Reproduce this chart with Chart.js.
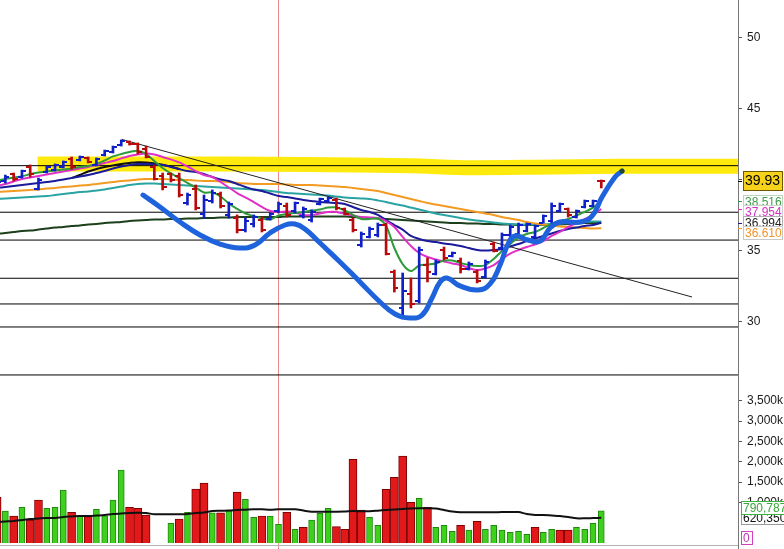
<!DOCTYPE html>
<html>
<head>
<meta charset="utf-8">
<script src="https://cdn.jsdelivr.net/npm/chart.js@4.4.1/dist/chart.umd.min.js"></script>
<style>
  html, body { margin: 0; padding: 0; background: #fff; }
  #wrap { position: relative; width: 784px; height: 549px; overflow: hidden; background: #fff; }
  canvas { position: absolute; left: 0; }
  #price { top: 0; }
  #vol { top: 381px; }
</style>
</head>
<body>
<div id="wrap">
  <canvas id="price" width="784" height="381" style="width:784px;height:381px"></canvas>
  <canvas id="vol" width="784" height="168" style="width:784px;height:168px"></canvas>
</div>
<script>
// ---- daily OHLC (bar index 0..73) ----
const openP = [39.50,39.90,40.40,40.20,40.90,39.40,40.55,40.70,40.90,41.50,
  41.40,41.55,41.05,41.75,41.95,42.45,42.70,42.50,42.20,40.90,
  40.30,40.40,40.30,38.40,39.40,37.60,38.50,39.00,37.50,37.30,
  36.45,36.90,37.20,37.25,37.80,38.20,37.80,37.45,37.15,38.30,
  38.50,38.60,37.95,37.20,35.40,36.00,36.10,36.85,33.50,31.00,
  32.00,31.50,34.00,33.40,35.10,34.65,34.30,33.75,33.50,33.20,
  35.50,35.20,36.10,36.20,36.40,36.00,37.00,37.10,37.80,37.95,
  37.40,38.10,38.15,39.95];
const highP = [39.93,40.35,40.49,40.70,41.06,40.14,40.99,41.13,41.34,41.62,
  41.69,41.62,41.55,42.11,42.39,42.82,42.75,42.61,42.39,41.06,
  40.49,40.49,40.49,39.08,39.65,38.94,39.30,39.15,38.45,37.54,
  37.32,37.54,37.39,37.68,38.45,38.38,38.45,38.10,37.89,38.73,
  38.80,38.73,38.03,37.32,36.34,36.69,36.97,36.97,33.66,33.45,
  33.10,35.28,34.51,34.37,35.28,34.93,34.51,34.23,33.66,34.37,
  35.63,36.27,36.83,36.97,36.97,36.83,37.54,38.38,38.38,38.03,
  37.89,38.59,38.59,40.00];
const lowP = [39.44,39.79,39.93,40.14,40.21,39.30,40.49,40.63,40.85,40.77,
  41.34,41.20,40.99,41.69,41.90,42.39,42.46,41.83,41.55,40.00,
  39.30,39.86,38.80,38.24,37.89,37.32,38.38,38.03,37.32,36.27,
  36.34,36.69,36.34,37.18,37.68,37.39,37.68,37.32,37.04,38.24,
  38.45,37.89,37.54,36.34,35.28,35.92,35.99,34.72,32.11,30.49,
  30.99,31.34,32.82,33.31,34.37,34.58,33.45,33.66,32.75,33.10,
  34.93,35.07,35.99,36.13,36.34,35.92,36.97,36.97,37.75,37.39,
  37.32,38.03,38.10,39.44];
const closeP = [39.85,40.20,40.10,40.60,40.40,40.00,40.90,41.05,41.25,40.90,
  41.65,41.30,41.45,42.05,42.30,42.75,42.50,41.95,41.65,40.10,
  39.50,40.00,38.95,38.95,38.00,38.60,39.10,38.15,38.30,36.45,
  37.10,37.40,36.50,37.60,38.30,37.55,38.35,37.95,37.75,38.65,
  38.75,38.00,37.60,36.45,36.20,36.55,36.85,34.80,32.40,32.20,
  31.30,35.10,33.50,34.20,34.50,34.85,33.70,34.10,32.90,34.20,
  35.00,36.10,36.70,36.85,36.90,36.75,37.45,38.20,38.30,37.50,
  37.80,38.50,38.50,39.93];

// ---- moving averages ----
const maGreen = [39.96,40.07,40.18,40.25,40.42,40.53,40.60,40.67,40.74,40.81,
  40.92,40.99,41.13,41.38,41.66,41.83,41.97,42.06,41.83,41.34,
  40.85,40.46,40.14,39.79,39.47,39.12,39.12,38.84,38.35,37.96,
  37.64,37.46,37.29,37.22,37.50,37.61,37.68,37.75,37.85,37.92,
  38.06,38.06,37.85,37.54,37.25,37.25,37.29,36.76,35.21,34.08,
  33.59,33.98,34.05,34.12,34.33,34.33,34.16,34.01,33.94,34.01,
  34.44,35.00,35.49,35.96,36.20,36.34,36.62,36.90,37.11,37.25,
  37.50,37.75,38.06,38.516];
const maMagenta = [39.58,39.72,39.90,40.07,40.18,40.28,40.39,40.49,40.60,40.70,
  40.81,40.92,41.06,41.20,41.34,41.52,41.69,41.80,41.87,41.80,
  41.62,41.45,41.24,40.95,40.63,40.35,40.21,39.86,39.47,39.08,
  38.77,38.45,38.10,37.82,37.75,37.78,37.71,37.54,37.54,37.64,
  37.75,37.75,37.61,37.50,37.39,37.36,37.32,37.11,36.69,35.99,
  35.35,34.86,34.58,34.40,34.26,34.12,34.01,33.80,33.66,33.77,
  34.01,34.44,34.82,35.07,35.28,35.46,35.70,36.06,36.34,36.69,
  36.97,37.25,37.54,37.954];
const maNavy = [39.44,39.51,39.58,39.65,39.72,39.79,39.86,39.93,40.04,40.14,
  40.25,40.35,40.49,40.63,40.81,40.95,41.06,41.13,41.13,41.10,
  41.06,40.92,40.77,40.63,40.56,40.42,40.21,40.04,39.93,39.72,
  39.51,39.33,39.23,39.05,38.87,38.80,38.70,38.59,38.52,38.45,
  38.41,38.38,38.31,38.10,37.89,37.75,37.54,37.18,36.83,36.51,
  36.06,35.85,35.70,35.63,35.53,35.46,35.35,35.21,35.07,35.03,
  35.07,35.14,35.32,35.49,35.70,35.88,36.06,36.23,36.41,36.55,
  36.65,36.76,36.83,36.994];
// short black average, shown from bar 9 to bar 22
const maBlackFrom = 9;
const maBlack = [40.14,40.35,40.60,40.77,40.92,41.03,41.13,41.20,41.25,41.24,41.17,41.08,40.95,40.77];
const maOrange = [39.15,39.19,39.23,39.26,39.30,39.33,39.40,39.44,39.51,39.54,
  39.61,39.65,39.72,39.79,39.86,39.93,39.96,40.04,40.07,40.07,
  40.07,40.04,40.00,40.00,39.96,39.93,39.93,39.90,39.86,39.79,
  39.75,39.72,39.72,39.72,39.72,39.68,39.65,39.65,39.65,39.61,
  39.58,39.54,39.51,39.44,39.37,39.30,39.23,39.08,38.94,38.80,
  38.66,38.52,38.38,38.27,38.17,38.06,37.96,37.85,37.75,37.64,
  37.54,37.39,37.29,37.18,37.04,36.94,36.87,36.80,36.73,36.69,
  36.65,36.62,36.59,36.610];
const maTeal = [38.66,38.70,38.73,38.77,38.80,38.84,38.87,38.94,39.01,39.08,
  39.15,39.19,39.26,39.33,39.44,39.54,39.65,39.72,39.75,39.75,
  39.72,39.68,39.65,39.61,39.58,39.54,39.51,39.47,39.44,39.40,
  39.37,39.33,39.30,39.23,39.15,39.08,39.05,39.01,38.98,38.94,
  38.91,38.84,38.77,38.73,38.70,38.66,38.56,38.45,38.31,38.20,
  38.06,37.92,37.78,37.64,37.54,37.43,37.32,37.22,37.15,37.08,
  37.01,36.94,36.90,36.87,36.87,36.87,36.87,36.90,36.94,36.97,
  37.01,37.04,37.08,37.08];
const maDarkGreen = [36.20,36.27,36.34,36.41,36.44,36.51,36.58,36.65,36.69,36.76,
  36.80,36.87,36.90,36.97,37.01,37.04,37.11,37.15,37.18,37.22,
  37.22,37.25,37.25,37.29,37.29,37.32,37.32,37.36,37.36,37.39,
  37.39,37.39,37.39,37.39,37.39,37.43,37.43,37.43,37.43,37.43,
  37.43,37.43,37.43,37.39,37.36,37.32,37.29,37.25,37.22,37.18,
  37.15,37.11,37.08,37.04,37.01,36.97,36.97,36.94,36.94,36.90,
  36.90,36.87,36.87,36.83,36.83,36.83,36.83,36.83,36.87,36.90,
  36.94,36.97,36.97,37.01];

// ---- volume ----
const volume = [1124000,787000,664000,878000,566000,1057000,853000,878000,1303000,755000,
  671000,647000,829000,671000,1057000,1795000,878000,853000,689000,null,
  null,484000,590000,755000,1328000,1475000,745000,745000,794000,1254000,
  1075000,632000,664000,664000,460000,755000,337000,386000,566000,730000,
  853000,401000,337000,2058000,811000,632000,435000,1320000,1616000,2139000,
  1001000,1099000,878000,386000,435000,288000,435000,320000,534000,337000,
  435000,320000,263000,288000,214000,386000,263000,337000,320000,320000,
  386000,337000,484000,790787];
// U = up day (green), D = down day (red)
const volumeDir = 'DUDUDDUUUD' + 'UDUUUUDDD-' + '-UDUDDUDUD' + 'UUDUUDUDUU' + 'UDDDDUUDDD' +
                  'DUDUUUDUDU' + 'UUUUUDUUDD' + 'UUUU';
const volumeAvg = [516000,529000,541000,566000,590000,602000,615000,615000,639000,652000,
  664000,664000,676000,689000,713000,725000,738000,745000,738000,706000,
  706000,706000,706000,713000,738000,750000,787000,794000,799000,811000,
  819000,829000,829000,816000,829000,829000,829000,799000,770000,770000,
  770000,770000,775000,787000,780000,780000,794000,811000,824000,836000,
  848000,853000,853000,848000,811000,775000,755000,755000,755000,755000,
  755000,762000,762000,762000,713000,689000,689000,676000,664000,639000,
  607000,607000,614000,620350];
const volumeStudy = 0;

// ---- drawn studies (bar index, price) ----
const levels = [41.01, 37.73, 35.77, 33.08, 31.27, 29.65, 26.27];
const trendLine = [[15.05, 42.86], [83.97, 31.76]];
const resistanceZone = [[4.9,41.12],[18,41.13],[37,41.10],[50,41.00],[57,40.87],[65,40.90],[75,40.96],[89.6,40.96]];
const sketchPath = [[17.63,38.94],[19.68,38.10],[22.10,37.04],[24.52,36.13],[26.93,35.49],[29.35,35.21],
  [31.16,35.42],[32.97,36.27],[34.79,36.83],[35.99,36.90],[37.20,36.55],[39.02,35.56],[41.43,34.23],
  [43.85,32.82],[46.27,31.41],[48.08,30.56],[49.89,30.28],[51.34,30.49],[52.55,31.69],[53.52,32.82],
  [54.36,33.10],[55.93,32.54],[58.11,32.25],[59.56,32.68],[60.77,34.01],[61.73,35.49],[62.58,36.06],
  [64.15,35.77],[65.60,35.70],[66.81,36.62],[68.02,37.04],[70.43,37.04],[71.88,37.46],[73.09,38.80],
  [74.66,40.21],[75.51,40.63]];
const cursorBar = 34;

// ---- axis ticks ----
const priceTicks = [30, 35, 40, 45, 50];
const volumeTicks = [1000000, 1500000, 2000000, 2500000, 3000000, 3500000];

// ---- layout ----
const AXIS_W = 46;
const X_MIN = 0.35, X_MAX = 89.52;
const PRICE_MAX = 52.676, PRICE_MIN = 52.676 - 381 / 14.2;
const VOL_MAX = 162 / 20.33 * 500000, VOL_MIN = -6 / 20.33 * 500000;
const FONT = 'Liberation Sans, Arial, sans-serif';

const pts = arr => arr.map((v, i) => ({ x: i, y: v }));
const pairs = arr => arr.map(p => ({ x: p[0], y: p[1] }));
const last = arr => arr[arr.length - 1];

const UP_BAR = '#1020c8', DOWN_BAR = '#b80a0a';

const upStems = [], downStems = [];
openP.forEach((o, i) => {
  const rec = { x: i, y: [lowP[i], highP[i]], o: o, c: closeP[i] };
  (closeP[i] >= o ? upStems : downStems).push(rec);
});

function lineDs(data, color, width, order, extra) {
  return Object.assign({
    type: 'line', data: data, borderColor: color, borderWidth: width,
    pointRadius: 0, tension: 0.3, fill: false, order: order, spanGaps: false
  }, extra || {});
}

// open / close ticks of the OHLC bars
const ohlcTicks = {
  id: 'ohlcTicks',
  afterDatasetDraw(chart, args) {
    const ds = chart.data.datasets[args.index];
    if (!ds.ohlc) return;
    const xs = chart.scales.x, ys = chart.scales.y, ctx = chart.ctx, a = chart.chartArea;
    ctx.save();
    ctx.beginPath(); ctx.rect(a.left, a.top, a.right - a.left, a.bottom - a.top); ctx.clip();
    ctx.strokeStyle = ds.backgroundColor; ctx.lineWidth = 2;
    ds.data.forEach(d => {
      const px = Math.round(xs.getPixelForValue(d.x));
      const po = Math.round(ys.getPixelForValue(d.o)), pc = Math.round(ys.getPixelForValue(d.c));
      ctx.beginPath();
      ctx.moveTo(px - 4, po); ctx.lineTo(px, po);
      ctx.moveTo(px, pc); ctx.lineTo(px + 4, pc);
      ctx.stroke();
    });
    ctx.restore();
  }
};

// cursor line across both panes
const cursorLine = {
  id: 'cursorLine',
  beforeDatasetsDraw(chart) {
    const x = Math.round(chart.scales.x.getPixelForValue(cursorBar)) + 0.5;
    const ctx = chart.ctx;
    ctx.save(); ctx.strokeStyle = 'rgba(232,120,120,0.85)'; ctx.lineWidth = 1;
    ctx.beginPath(); ctx.moveTo(x, 0); ctx.lineTo(x, chart.height); ctx.stroke();
    ctx.restore();
  }
};

function drawTag(ctx, x, yc, h, w, text, o) {
  const top = Math.round(yc - h / 2) + 0.5;
  ctx.fillStyle = o.fill; ctx.fillRect(x, top, w, h);
  ctx.strokeStyle = o.edge; ctx.lineWidth = 1; ctx.strokeRect(x + 0.5, top, w - 1, h);
  ctx.fillStyle = o.text; ctx.textBaseline = 'middle'; ctx.textAlign = 'left';
  ctx.font = o.size + 'px ' + FONT;
  ctx.fillText(text, x + 2, top + h / 2 + 0.5);
}

// last-value tags on the price axis
const priceTags = {
  id: 'priceTags',
  afterDraw(chart) {
    const ys = chart.scales.y, ctx = chart.ctx, x0 = chart.chartArea.right;
    const tags = [
      { v: last(closeP), txt: last(closeP).toFixed(2), fill: '#f7d21a', edge: '#6b5a00', text: '#000', size: 14, h: 19, w: 40, tick: '#000' },
      { v: last(maGreen), txt: last(maGreen).toFixed(3), fill: '#fff', edge: '#bcd6bc', text: '#3d9c4a', size: 12, h: 13, w: 40, tick: '#2f9a3a' },
      { v: last(maMagenta), txt: last(maMagenta).toFixed(3), fill: '#fff', edge: '#cfcfcf', text: '#d532c3', size: 12, h: 13, w: 40, tick: '#de2fc8' },
      { v: last(maNavy), txt: last(maNavy).toFixed(3), fill: '#fff', edge: '#b0b0b0', text: '#222', size: 12, h: 13, w: 40, tick: '#1a1a9a' },
      { v: last(maOrange), txt: last(maOrange).toFixed(3), fill: '#fff', edge: '#c8c8c8', text: '#f0952a', size: 12, h: 13, w: 40, tick: '#f39a22' }
    ];
    ctx.save();
    let prev = -1e9;
    tags.forEach((t, k) => {
      const yv = ys.getPixelForValue(t.v);
      ctx.strokeStyle = t.tick; ctx.lineWidth = 1;
      ctx.beginPath(); ctx.moveTo(x0, Math.round(yv) + 0.5); ctx.lineTo(x0 + 4, Math.round(yv) + 0.5); ctx.stroke();
      let yc = yv;
      if (k > 0) yc = Math.max(yv, prev + 10);
      if (k === 1) yc = Math.max(yc, prev + 16);
      prev = yc;
      drawTag(ctx, x0 + 5, yc, t.h, t.w, t.txt, t);
    });
    ctx.restore();
  }
};

// last-value tags on the volume axis
const volumeTags = {
  id: 'volumeTags',
  afterDraw(chart) {
    const ys = chart.scales.y, ctx = chart.ctx, x0 = chart.chartArea.right;
    const fmt = v => Math.round(v).toLocaleString('en-US');
    const tags = [
      { v: volumeStudy, txt: fmt(volumeStudy), fill: '#fff', edge: '#d040c0', text: '#c030b0', w: 12 },
      { v: last(volumeAvg), txt: fmt(last(volumeAvg)), fill: '#fff', edge: '#999', text: '#111', w: 44 },
      { v: last(volume), txt: fmt(last(volume)), fill: '#fff', edge: '#3cb33c', text: '#3aa83a', w: 46 }
    ];
    ctx.save();
    let prev = 1e9;
    tags.forEach((t, k) => {
      let yc = ys.getPixelForValue(t.v);
      yc = Math.min(yc, chart.chartArea.bottom - 12);
      if (k > 0) yc = Math.min(yc, prev - 10);
      prev = yc;
      drawTag(ctx, x0 + 3, yc, 13, t.w, t.txt, Object.assign({ size: 12 }, t));
    });
    // pane frame
    ctx.strokeStyle = '#b5b5b5'; ctx.lineWidth = 1;
    const yb = Math.round(ys.getPixelForValue(VOL_MIN * 0.33)) + 0.5;
    ctx.beginPath(); ctx.moveTo(0, yb); ctx.lineTo(chart.chartArea.right, yb); ctx.stroke();
    ctx.restore();
  }
};

function rightAxis(min, max, ticks, fmt) {
  return {
    type: 'linear', position: 'right', min: min, max: max,
    afterBuildTicks: s => { s.ticks = ticks.map(v => ({ value: v })); },
    afterFit: s => { s.width = AXIS_W; s.paddingTop = 0; s.paddingBottom = 0; },
    grid: { drawOnChartArea: false, tickLength: 4, color: '#555', lineWidth: 1 },
    border: { display: true, color: '#777', width: 1 },
    ticks: { padding: 5, color: '#1a1a1a', font: { family: FONT, size: 12 }, callback: fmt }
  };
}
const xAxis = { type: 'linear', min: X_MIN, max: X_MAX, offset: false, display: false };
const common = {
  responsive: false, animation: false, devicePixelRatio: 1, events: [],
  layout: { padding: 0, autoPadding: false },
  plugins: { legend: { display: false }, tooltip: { enabled: false } }
};

const priceSets = [
  lineDs(pairs(resistanceZone), 'rgba(255,233,0,0.95)', 15, 100, { tension: 0.2, borderCapStyle: 'butt' })
];
levels.forEach(v => priceSets.push(lineDs([{ x: -1, y: v }, { x: 95, y: v }], '#000', 1, 90, { tension: 0 })));
priceSets.push(
  lineDs(pts(maDarkGreen), '#1c3f1c', 2, 60),
  lineDs(pts(maTeal), '#2aa3a3', 2, 59),
  lineDs(pts(maOrange), '#f39a22', 2, 58),
  lineDs(maBlack.map((v, i) => ({ x: i + maBlackFrom, y: v })), '#101010', 2, 57),
  lineDs(pts(maNavy), '#1a1a9a', 2, 56),
  lineDs(pts(maMagenta), '#e030c8', 2, 55),
  lineDs(pts(maGreen), '#2f9a3a', 2, 54),
  lineDs(pairs(trendLine), '#222', 1, 50, { tension: 0 }),
  { type: 'bar', data: upStems, backgroundColor: UP_BAR, barThickness: 2, grouped: false, order: 40, ohlc: true },
  { type: 'bar', data: downStems, backgroundColor: DOWN_BAR, barThickness: 2, grouped: false, order: 39, ohlc: true },
  lineDs(pairs(sketchPath), '#1e63dc', 5, 10, {
    tension: 0.45, borderCapStyle: 'round', borderJoinStyle: 'round',
    pointRadius: c => c.dataIndex === sketchPath.length - 1 ? 2.5 : 0,
    pointBackgroundColor: '#1f4a2a', pointBorderWidth: 0
  })
);

new Chart(document.getElementById('price'), {
  type: 'bar',
  data: { datasets: priceSets },
  options: Object.assign({}, common, {
    scales: { x: xAxis, y: rightAxis(PRICE_MIN, PRICE_MAX, priceTicks, v => String(v)) }
  }),
  plugins: [cursorLine, ohlcTicks, priceTags]
});

const upVol = [], downVol = [];
volume.forEach((v, i) => {
  if (v === null) return;
  (volumeDir[i] === 'U' ? upVol : downVol).push({ x: i, y: v });
});

new Chart(document.getElementById('vol'), {
  type: 'bar',
  data: {
    datasets: [
      lineDs(pts(volumeAvg), '#111', 2, 1, { tension: 0.3 }),
      { type: 'bar', data: upVol, backgroundColor: '#3fd01e', borderColor: '#1d8a0c', borderWidth: 1, barThickness: 6, grouped: false, order: 5 },
      { type: 'bar', data: downVol, backgroundColor: '#e2191b', borderColor: '#7e0000', borderWidth: 1, barThickness: 8, grouped: false, order: 6 }
    ]
  },
  options: Object.assign({}, common, {
    scales: {
      x: xAxis,
      y: rightAxis(VOL_MIN, VOL_MAX, volumeTicks, v => (v / 1000).toLocaleString('en-US') + 'k')
    }
  }),
  plugins: [cursorLine, volumeTags]
});
</script>
</body>
</html>
